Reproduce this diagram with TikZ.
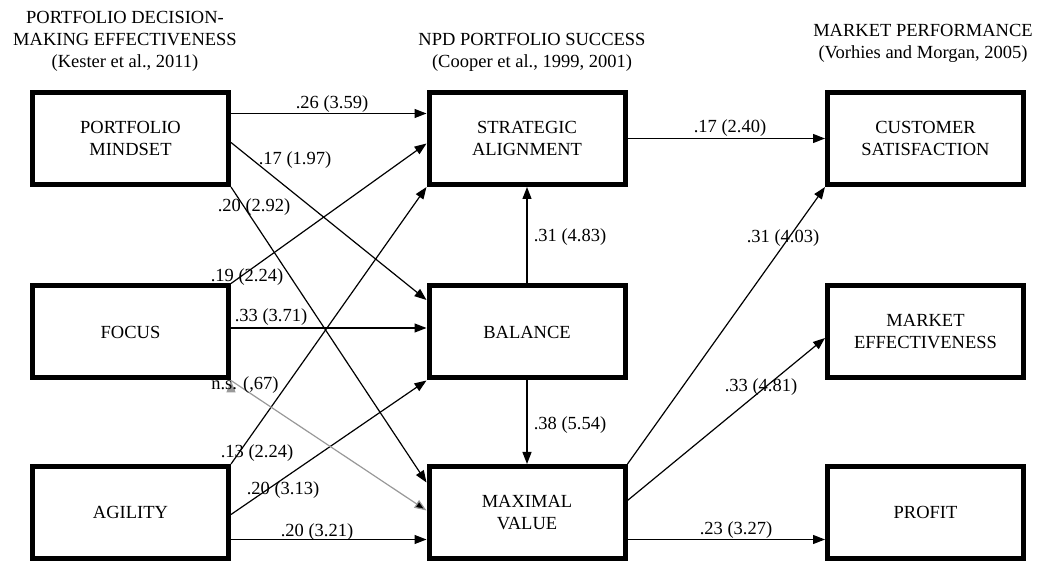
\documentclass[tikz,border=0pt]{standalone}
\usepackage{fontspec}
\setmainfont{Liberation Serif}
\usetikzlibrary{positioning,arrows.meta}
\tikzset{
  factor/.style={draw, line width=5pt, minimum width=196pt, minimum height=92pt, align=center, inner sep=2pt},
  header/.style={align=center, inner sep=0pt},
  coef/.style={inner sep=1pt},
  link/.style={->, line width=1.2pt},
  nslink/.style={->, line width=1.2pt, draw=black!40}
}
\begin{document}
\begin{tikzpicture}[x=1pt, y=1pt, font=\fontsize{18.5}{22}\selectfont, >={Triangle[length=12pt,width=9pt]}]
  \useasboundingbox (0,0) rectangle (1038,562);
  \node (hdm) [header] at (125,521) {PORTFOLIO DECISION-\\MAKING EFFECTIVENESS\\(Kester et al., 2011)};
  \node (hnpd) [header] at (532,510) {NPD PORTFOLIO SUCCESS\\(Cooper et al., 1999, 2001)};
  \node (hmkt) [header] at (923,518.5) {MARKET PERFORMANCE\\(Vorhies and Morgan, 2005)};
  \node (pm) [factor] at (130.5,423.5) {PORTFOLIO\\MINDSET};
  \node (focus) [factor, below of=pm, node distance=193.5pt] {FOCUS};
  \node (agility) [factor, below of=focus, node distance=180.5pt] {AGILITY};
  \node (sa) [factor, right of=pm, node distance=396.5pt] {STRATEGIC\\ALIGNMENT};
  \node (bal) [factor, right of=focus, node distance=396.5pt] {BALANCE};
  \node (mv) [factor, right of=agility, node distance=396.5pt] {MAXIMAL\\VALUE};
  \node (cs) [factor, right of=sa, node distance=398.5pt] {CUSTOMER\\SATISFACTION};
  \node (me) [factor, right of=bal, node distance=398.5pt] {MARKET\\EFFECTIVENESS};
  \node (profit) [factor, right of=mv, node distance=398.5pt] {PROFIT};
  \path[link] ([yshift=25pt]pm.east) edge ([yshift=25pt]sa.west)
              ([yshift=-4pt]pm.east) edge ([yshift=32pt]bal.west)
              (pm.south east) edge ([yshift=30pt]mv.west)
              (focus.north east) edge ([yshift=-5pt]sa.west)
              ([yshift=4pt]focus.east) edge ([yshift=4pt]bal.west)
              (agility.north east) edge (sa.south west)
              ([yshift=-2pt]agility.east) edge (bal.south west)
              ([yshift=-27pt]agility.east) edge ([yshift=-27pt]mv.west)
              (bal.north) edge (sa.south)
              (bal.south) edge (mv.north)
              (sa.east) edge (cs.west)
              (mv.north east) edge (cs.south west)
              ([yshift=12pt]mv.east) edge ([yshift=-6pt]me.west)
              ([yshift=-27pt]mv.east) edge ([yshift=-27pt]profit.west)
              ;
  \path[nslink] (focus.south east) edge ([yshift=2pt]mv.west);
  \node (c1) [coef] at (332,458) {.26 (3.59)};
  \node (c2) [coef] at (295,402) {.17 (1.97)};
  \node (c3) [coef] at (254,355) {.20 (2.92)};
  \node (c4) [coef] at (247,285) {.19 (2.24)};
  \node (c5) [coef] at (271,245) {.33 (3.71)};
  \node (c6) [coef] at (245,177) {n.s. (,67)};
  \node (c7) [coef] at (257,109) {.13 (2.24)};
  \node (c8) [coef] at (283,72) {.20 (3.13)};
  \node (c9) [coef] at (317,30) {.20 (3.21)};
  \node (c10) [coef] at (570,325) {.31 (4.83)};
  \node (c11) [coef] at (570,137) {.38 (5.54)};
  \node (c12) [coef] at (730,434) {.17 (2.40)};
  \node (c13) [coef] at (783,324) {.31 (4.03)};
  \node (c14) [coef] at (761,175) {.33 (4.81)};
  \node (c15) [coef] at (736,32) {.23 (3.27)};
\end{tikzpicture}
\end{document}
